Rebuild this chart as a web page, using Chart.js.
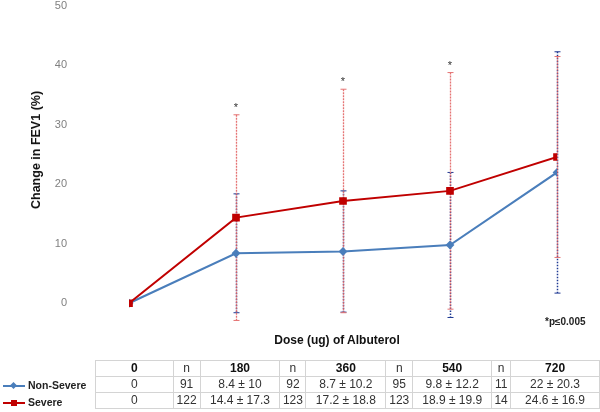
<!DOCTYPE html>
<html>
<head>
<meta charset="utf-8">
<script src="https://cdn.jsdelivr.net/npm/chart.js@4"></script>
<style>
body{margin:0;background:#fff;font-family:"Liberation Sans",Arial,sans-serif;}
#wrap{position:relative;width:600px;height:412px;}
#c{position:absolute;left:0;top:0;}
.ytitle{position:absolute;left:36px;top:150px;transform:translate(-50%,-50%) rotate(-90deg);font-weight:bold;font-size:12.5px;white-space:nowrap;color:#111;}
.xtitle{position:absolute;left:337px;top:340px;transform:translate(-50%,-50%);font-weight:bold;font-size:12px;white-space:nowrap;color:#111;}
.pnote{position:absolute;left:545px;top:316px;font-weight:bold;font-size:10px;color:#222;}
#tbl{position:absolute;left:95px;top:360px;border-collapse:collapse;table-layout:fixed;font-size:12px;color:#333;}
#tbl td{border:1px solid #d4d4d4;text-align:center;height:15px;padding:0;line-height:15px;white-space:nowrap;}
#tbl tr:first-child td{font-weight:bold;color:#111;}
#tbl tr:first-child td.n{font-weight:normal;color:#333;}
.leg{position:absolute;left:3px;font-weight:bold;font-size:10.5px;color:#222;height:16px;line-height:16px;}
.leg .ln{display:inline-block;position:relative;width:22px;height:2px;vertical-align:middle;margin-right:3px;}
.leg .mk{position:absolute;left:8px;top:-2px;width:6px;height:6px;}
</style>
</head>
<body>
<div id="wrap">
<canvas id="c" width="600" height="412"></canvas>
<div class="ytitle">Change in FEV1 (%)</div>
<div class="xtitle">Dose (ug) of Albuterol</div>
<div class="pnote">*p≤0.005</div>
<div class="leg" style="top:377px"><span class="ln" style="background:#4a7ebb"><span class="mk" style="background:#4a7ebb;transform:rotate(45deg);width:5px;height:5px;left:8px;top:-2px"></span></span>Non-Severe</div>
<div class="leg" style="top:394px"><span class="ln" style="background:#c00000"><span class="mk" style="background:#c00000"></span></span>Severe</div>
<table id="tbl"></table>
</div>
<script>
const doses = [0, 180, 360, 540, 720];
const nonSevere = [0, 8.4, 8.7, 9.8, 22];
const nonSevereSD = [0, 10, 10.2, 12.2, 20.3];
const nonSevereN = [null, 91, 92, 95, 11];
const severe = [0, 14.4, 17.2, 18.9, 24.6];
const severeSD = [0, 17.3, 18.8, 19.9, 16.9];
const severeN = [null, 122, 123, 123, 14];
const starred = [false, true, true, true, false];
const yTicks = [0, 10, 20, 30, 40, 50];

// table under the plot
let colW = [78, 27, 80, 26, 80, 27, 79, 19, 89];
let tbl = document.getElementById('tbl');
let cg = '<colgroup>' + colW.map(w => '<col style="width:' + w + 'px">').join('') + '</colgroup>';
function rowHtml(vals, sds, ns, hdr) {
  let h = '<tr>';
  doses.forEach((d, i) => {
    if (i > 0) h += '<td class="n">' + (hdr ? 'n' : ns[i]) + '</td>';
    if (hdr) h += '<td>' + d + '</td>';
    else if (i == 0) h += '<td>' + vals[i] + '</td>';
    else h += '<td>' + vals[i] + ' ± ' + sds[i] + '</td>';
  });
  return h + '</tr>';
}
tbl.innerHTML = cg + rowHtml(null, null, null, true) + rowHtml(nonSevere, nonSevereSD, nonSevereN) + rowHtml(severe, severeSD, severeN);

const errBars = {
  id: 'errBars',
  beforeDatasetsDraw(chart) {
    const ctx = chart.ctx, x = chart.scales.x, y = chart.scales.y;
    const sets = [
      {v: nonSevere, sd: nonSevereSD, col: '#1f3a93', dash: [1.5, 1.5], w: 1.5},
      {v: severe, sd: severeSD, col: '#e57373', dash: [2, 1], w: 1.3}
    ];
    ctx.save();
    sets.forEach(s => {
      ctx.strokeStyle = s.col;
      ctx.lineWidth = s.w;
      doses.forEach((d, i) => {
        if (!s.sd[i]) return;
        let px = Math.round(x.getPixelForValue(d)) + 0.5;
        let t = y.getPixelForValue(s.v[i] + s.sd[i]);
        let b = y.getPixelForValue(s.v[i] - s.sd[i]);
        ctx.setLineDash(s.dash);
        ctx.beginPath(); ctx.moveTo(px, t); ctx.lineTo(px, b); ctx.stroke();
        ctx.setLineDash([]);
        ctx.lineWidth = 1;
        ctx.beginPath();
        ctx.moveTo(px - 3, t); ctx.lineTo(px + 3, t);
        ctx.moveTo(px - 3, b); ctx.lineTo(px + 3, b);
        ctx.stroke();
        ctx.lineWidth = s.w;
      });
    });
    // significance stars
    ctx.fillStyle = '#333';
    ctx.font = '11px "Liberation Sans", Arial';
    ctx.textAlign = 'center';
    doses.forEach((d, i) => {
      if (!starred[i]) return;
      ctx.fillText('*', x.getPixelForValue(d), y.getPixelForValue(severe[i] + severeSD[i]) - 4);
    });
    ctx.restore();
  }
};

let ctx = document.getElementById('c').getContext('2d');
new Chart(ctx, {
  type: 'line',
  data: {
    datasets: [{
      label: 'Severe',
      data: doses.map((d, i) => ({x: d, y: severe[i]})),
      borderColor: '#c00000',
      backgroundColor: '#c00000',
      borderWidth: 2,
      pointStyle: 'rect',
      pointRadius: 4,
      tension: 0
    }, {
      label: 'Non-Severe',
      data: doses.map((d, i) => ({x: d, y: nonSevere[i]})),
      borderColor: '#4a7ebb',
      backgroundColor: '#4a7ebb',
      borderWidth: 2,
      pointStyle: 'rectRot',
      pointRadius: 3,
      tension: 0
    }]
  },
  options: {
    responsive: false,
    animation: false,
    layout: {padding: {top: 0, right: 43, bottom: 85, left: 0}},
    plugins: {legend: {display: false}, tooltip: {enabled: false}},
    scales: {
      x: {
        type: 'linear', min: 0, max: 720, display: false
      },
      y: {
        min: -4, max: 50,
        grid: {display: false, drawTicks: false},
        border: {display: false},
        afterBuildTicks: a => { a.ticks = yTicks.map(v => ({value: v})); },
        afterFit: s => { s.width = 129; s.paddingTop = 5; s.paddingBottom = 0; },
        ticks: {padding: 62, color: '#808080', font: {size: 11, family: '"Liberation Sans", Arial'}}
      }
    }
  },
  plugins: [errBars]
});
</script>
</body>
</html>
